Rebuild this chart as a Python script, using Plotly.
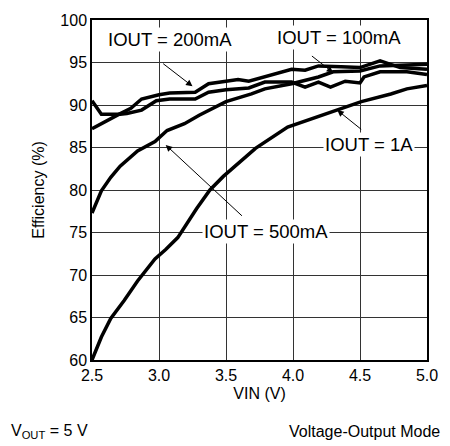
import plotly.graph_objects as go

# ---- data ----
vin_200 = [2.5, 2.6, 2.7, 2.79, 2.87, 3.0, 3.08, 3.27, 3.37, 3.5, 3.59, 3.67, 3.79, 3.99, 4.09, 4.19, 4.36, 4.5, 4.65, 4.8, 5.0]
eff_200 = [87.2, 88.1, 88.9, 89.6, 90.7, 91.2, 91.4, 91.5, 92.5, 92.8, 93.0, 92.8, 93.3, 94.2, 94.1, 94.6, 94.5, 94.4, 95.2, 94.4, 94.2]

vin_100 = [2.5, 2.57, 2.71, 2.76, 2.87, 2.98, 3.08, 3.27, 3.37, 3.5, 3.67, 3.79, 3.99, 4.09, 4.19, 4.28, 4.39, 4.5, 4.53, 4.65, 4.85, 5.0]
eff_100 = [90.5, 88.9, 88.9, 89.0, 89.4, 90.5, 90.7, 90.7, 91.5, 91.8, 92.0, 92.7, 92.7, 92.1, 92.7, 92.1, 92.8, 92.6, 93.3, 93.9, 93.9, 93.6]

vin_500 = [2.5, 2.57, 2.64, 2.71, 2.84, 2.97, 3.06, 3.19, 3.3, 3.5, 3.69, 3.79, 3.99, 4.09, 4.19, 4.3, 4.5, 4.65, 5.0]
eff_500 = [77.3, 79.9, 81.5, 82.8, 84.6, 85.7, 87.0, 87.8, 88.8, 90.4, 91.3, 91.9, 92.5, 92.9, 93.3, 93.9, 94.0, 94.6, 94.8]

vin_1a = [2.5, 2.57, 2.64, 2.74, 2.84, 2.97, 3.05, 3.14, 3.28, 3.38, 3.48, 3.6, 3.72, 3.96, 4.11, 4.33, 4.51, 4.73, 4.85, 5.0]
eff_1a = [60.0, 62.7, 64.9, 67.0, 69.3, 71.9, 73.0, 74.4, 77.8, 80.0, 81.6, 83.2, 84.9, 87.4, 88.2, 89.4, 90.4, 91.3, 91.9, 92.3]

x_ticks = [2.5, 3.0, 3.5, 4.0, 4.5, 5.0]
y_ticks = [60, 65, 70, 75, 80, 85, 90, 95, 100]

FONT = "Liberation Sans, Arial, sans-serif"

fig = go.Figure()
for xs, ys, name in [(vin_200, eff_200, "IOUT = 200mA"), (vin_100, eff_100, "IOUT = 100mA"),
                     (vin_500, eff_500, "IOUT = 500mA"), (vin_1a, eff_1a, "IOUT = 1A")]:
    fig.add_trace(go.Scatter(x=xs, y=ys, mode="lines", name=name,
                             line=dict(color="black", width=3.5), showlegend=False))

# labels with white background (break the grid)
labels = [
    ("IOUT = 200mA", 3.08, 97.7),
    ("IOUT = 100mA", 4.345, 98.0),
    ("IOUT = 1A", 4.57, 85.4),
    ("IOUT = 500mA", 3.80, 75.1),
]
for t, x, y in labels:
    fig.add_annotation(x=x, y=y, text=t, showarrow=False, bgcolor="white",
                       borderpad=1, font=dict(family=FONT, size=18.5, color="black"))

# arrows: (tip_x, tip_y, tail_x, tail_y)
arrows = [
    (3.25, 92.2, 3.02, 95.0),
    (4.30, 93.8, 4.13, 95.9),
    (4.33, 89.4, 4.52, 87.0),
    (3.05, 85.3, 3.63, 76.8),
]
for tx, ty, ax, ay in arrows:
    fig.add_annotation(x=tx, y=ty, ax=ax, ay=ay, axref="x", ayref="y", xref="x", yref="y",
                       text="", showarrow=True, arrowhead=2, arrowsize=1.3,
                       arrowwidth=1, arrowcolor="black")

fig.add_annotation(xref="paper", yref="paper", x=-0.249, y=-0.209, xanchor="left", yanchor="middle",
                   text="V<sub>OUT</sub> = 5 V", showarrow=False,
                   font=dict(family=FONT, size=16, color="black"))
fig.add_annotation(xref="paper", yref="paper", x=1.044, y=-0.209, xanchor="right", yanchor="middle",
                   text="Voltage-Output Mode", showarrow=False,
                   font=dict(family=FONT, size=16, color="black"))

fig.update_layout(
    width=450, height=446,
    margin=dict(l=92, r=20, t=15, b=86),
    plot_bgcolor="white", paper_bgcolor="white",
    font=dict(family=FONT, size=16, color="black"),
)
fig.update_xaxes(range=[2.5, 5.0], tickvals=x_ticks, ticktext=[f"{v:.1f}" for v in x_ticks],
                 showgrid=True, gridcolor="#333", gridwidth=1.3,
                 showline=True, linecolor="black", linewidth=1.5, mirror=True,
                 ticks="", zeroline=False,
                 title=dict(text="VIN (V)", standoff=5, font=dict(family=FONT, size=16)))
fig.update_yaxes(range=[60, 100], tickvals=y_ticks,
                 showgrid=True, gridcolor="#333", gridwidth=1.3,
                 showline=True, linecolor="black", linewidth=1.5, mirror=True,
                 ticks="", zeroline=False,
                 title=dict(text="Efficiency (%)", standoff=12, font=dict(family=FONT, size=16)))

fig.write_html("out.html", config={"displayModeBar": False},
               post_script="document.body.style.margin='0';")
